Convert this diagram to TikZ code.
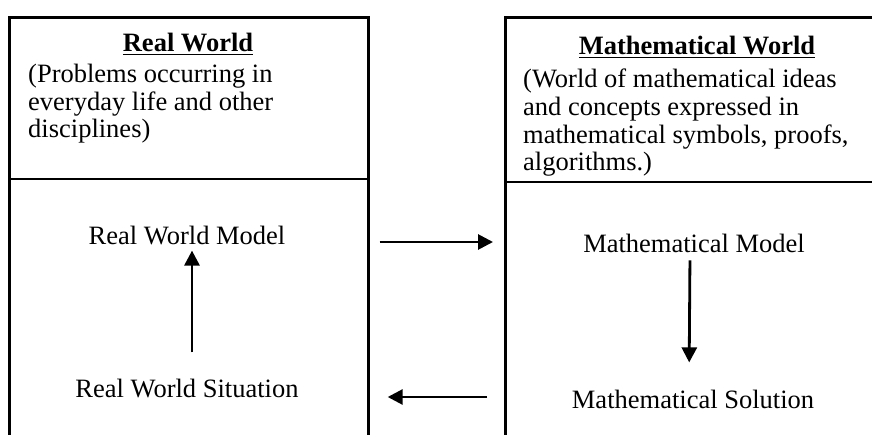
\documentclass[tikz,border=0pt]{standalone}
\usepackage{fontspec}
\setmainfont{Liberation Serif}
\usetikzlibrary{arrows.meta}
\begin{document}
\begin{tikzpicture}[x=1pt,y=-1pt,
  boxline/.style={line width=2.7pt},
  world/.style={draw, boxline, minimum width=#1, minimum height=460pt, anchor=north west, inner sep=0pt},
  txt/.style={inner sep=0pt, font=\fontsize{26.5}{27.8}\selectfont},
  arr/.style={line width=2.8pt, -{Triangle[length=15pt,width=15pt]}}]
\useasboundingbox (0,0) rectangle (872,435);
\clip (0,0) rectangle (872,435);
\fill[white] (0,0) rectangle (872,435);
\node[world=359pt] (lbox) at (8,16) {};
\node[world=420pt] (rbox) at (504,16) {};
\draw[boxline] ([yshift=-163pt]lbox.north west) -- ([yshift=-163pt]lbox.north east);
\draw[boxline] ([yshift=-166pt]rbox.north west) -- ([yshift=-166pt]rbox.north east);
\node[txt, anchor=base] (lhead) at (188,52) {\textbf{\underline{Real World}}};
\node[txt, anchor=base] (rhead) at (697,55) {\textbf{\underline{Mathematical World}}};
\node[txt, anchor=base west, align=left] (ldesc) at (28,138) {(Problems occurring in\\everyday life and other\\disciplines)};
\node[txt, anchor=base west, align=left] (rdesc) at (523,171) {(World of mathematical ideas\\and concepts expressed in\\mathematical symbols, proofs,\\algorithms.)};
\node[txt, anchor=base] (rwm) at (187,245) {Real World Model};
\node[txt, anchor=base] (rws) at (187,397) {Real World Situation};
\node[txt, anchor=base] (mm) at (694,253) {Mathematical Model};
\node[txt, anchor=base] (ms) at (693,408) {Mathematical Solution};
\draw[arr, shorten <=26pt, shorten >=5pt] ([xshift=5pt]rws.north) -- ([xshift=5pt]rwm.south);
\draw[arr, shorten <=7pt, shorten >=27pt] ([xshift=-4pt]mm.south) -- ([xshift=-4pt]ms.north);
\draw[arr] ([shift={(10,226)}]lbox.north east) -- ([shift={(-11,226)}]rbox.north west);
\draw[arr] ([shift={(-17,381)}]rbox.north west) -- ([shift={(18,381)}]lbox.north east);
\end{tikzpicture}
\end{document}
